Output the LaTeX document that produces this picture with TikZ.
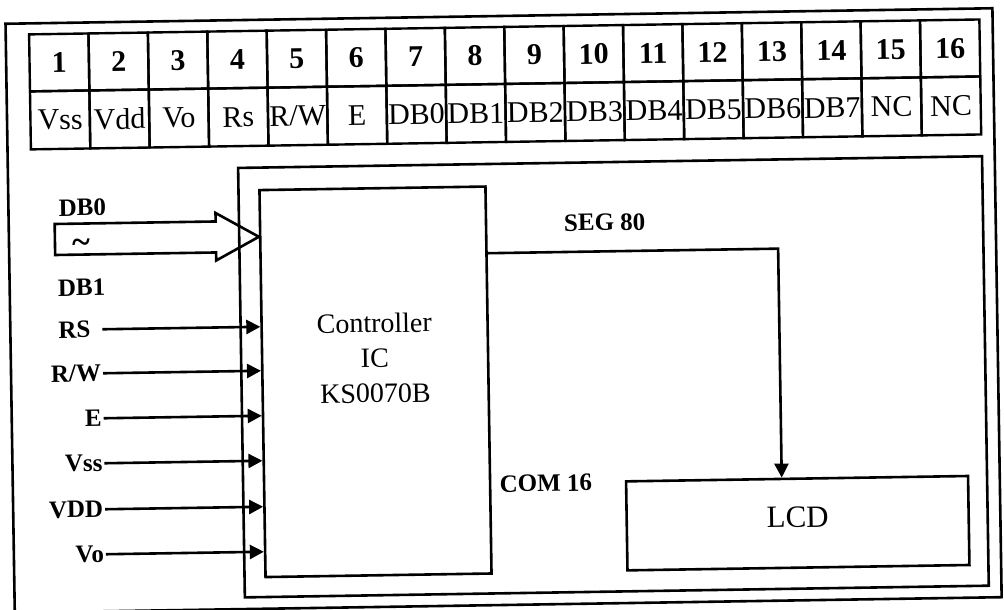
\documentclass[tikz,border=0pt]{standalone}
\usepackage{fontspec}
\setmainfont{Liberation Serif}
\usetikzlibrary{arrows.meta}
\begin{document}
\begin{tikzpicture}[x=1pt,y=-1pt,
  frame/.style={draw,line width=2.6pt},
  cell/.style={draw,line width=2.4pt,minimum width=59.4pt,inner sep=0pt,font=\fontsize{30}{30}\selectfont},
  box/.style={draw,line width=2.6pt,inner sep=0pt,anchor=north west},
  lbl/.style={inner sep=0pt,outer sep=2pt,font=\fontsize{25}{25}\selectfont\bfseries},
  conn/.style={line width=2.6pt,-{Triangle[length=14pt,width=14pt]}},
  wire/.style={line width=2.6pt,line join=miter}]
\useasboundingbox (0,0) rectangle (1004,610);
\begin{scope}[rotate around={0.9:(502,305)},transform shape]
  % outer frame
  \draw[frame] (10,16) rectangle (997,605);
  % pin table
  \foreach \i/\t in {1/Vss,2/Vdd,3/Vo,4/Rs,5/{R/W},6/E,7/DB0,8/DB1,9/DB2,10/DB3,11/DB4,12/DB5,13/DB6,14/DB7,15/NC,16/NC}{
    \node[cell,minimum height=57pt] (n\i) at ({33.4+59.4*(\i-0.5)},55.5) {\bfseries\i};
    \node[cell,minimum height=58pt] (p\i) at ({33.4+59.4*(\i-0.5)},113) {\t};
  }
  % module, controller, LCD
  \node[box,minimum width=744pt,minimum height=429.5pt] (mod) at (239,162.5) {};
  \node[box,minimum width=226pt,minimum height=387pt] (ctrl) at (260,185) {};
  \node[align=center,inner sep=0pt,font=\fontsize{28}{35}\selectfont] (ctrltext) at (374,356) {Controller\\IC\\KS0070B};
  \node[box,minimum width=342pt,minimum height=89pt,text depth=12pt,font=\fontsize{31}{31}\selectfont] (lcd) at (622,482) {LCD};
  % SEG connection
  \coordinate (segpt) at (779,253);
  \draw[conn] (ctrl.east |- segpt) -| (lcd.north -| segpt);
  \node[lbl] (seg) at (606,224) {SEG 80};
  \node[lbl] (com) at (543,484) {COM 16};
  % data bus arrow
  \coordinate (busy) at (0,233);
  \coordinate (bustip) at (ctrl.west |- busy);
  \draw[wire] (bustip) -- ++(-43,-24.5) -- ++(0,8.5) -- ++(-161,0) -- ++(0,31) -- ++(161,0) -- ++(0,8) -- cycle;
  \node[lbl] (db0) at (84,201) {DB0};
  \node[lbl] (db1) at (82,281) {DB1};
  \node[inner sep=0pt,font=\fontsize{34}{34}\selectfont\bfseries] (tilde) at (82,240) {\textasciitilde};
  % control inputs
  \node[lbl,anchor=east,inner xsep=10pt] (rs) at (102,323) {RS};
  \node[lbl,anchor=east] (rw) at (102,367) {R/W};
  \node[lbl,anchor=east] (e) at (102,412) {E};
  \node[lbl,anchor=east] (vss) at (102,457) {Vss};
  \node[lbl,anchor=east] (vdd) at (102,503) {VDD};
  \node[lbl,anchor=east] (vo) at (102,548) {Vo};
  \foreach \n in {rs,rw,e,vss,vdd,vo}
    \draw[conn] (\n.east) -- (\n.east -| ctrl.west);
\end{scope}
\end{tikzpicture}
\end{document}
